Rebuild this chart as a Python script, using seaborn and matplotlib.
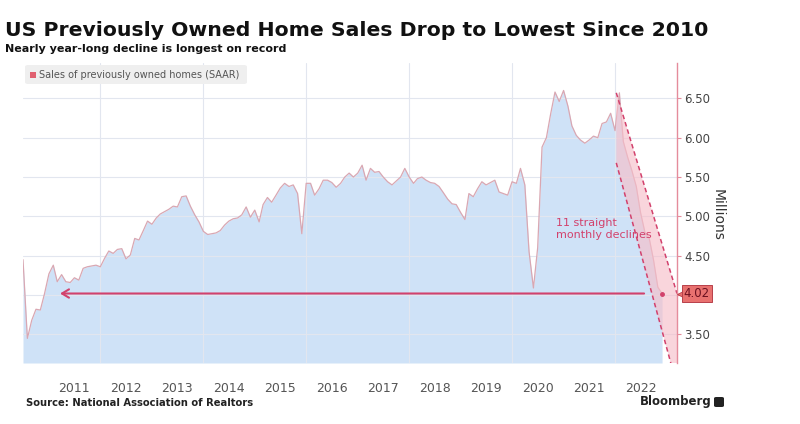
import pandas as pd
import matplotlib.pyplot as plt
import matplotlib.dates as mdates
from matplotlib.patches import Polygon, FancyBboxPatch
import seaborn as sns

# ----------------------------------------------------------
# Data (monthly, SAAR, millions)
# ----------------------------------------------------------

start_month = "2010-07-01"
sales = [
    4.45, 3.45, 3.68, 3.82, 3.81, 4.02, 4.27, 4.38, 4.17, 4.26,
    4.17, 4.16, 4.22, 4.19, 4.34, 4.36, 4.37, 4.38, 4.36, 4.47,
    4.56, 4.53, 4.58, 4.59, 4.46, 4.51, 4.72, 4.70, 4.82, 4.94,
    4.90, 4.98, 5.03, 5.06, 5.09, 5.13, 5.12, 5.25, 5.26, 5.13,
    5.02, 4.93, 4.81, 4.77, 4.78, 4.79, 4.82, 4.89, 4.94, 4.97,
    4.98, 5.02, 5.12, 4.99, 5.08, 4.93, 5.15, 5.24, 5.18, 5.27,
    5.36, 5.42, 5.38, 5.40, 5.29, 4.78, 5.42, 5.42, 5.27, 5.35,
    5.46, 5.46, 5.43, 5.37, 5.42, 5.50, 5.55, 5.50, 5.55, 5.65,
    5.46, 5.61, 5.56, 5.57, 5.50, 5.44, 5.40, 5.45, 5.50, 5.61,
    5.50, 5.42, 5.48, 5.50, 5.46, 5.43, 5.42, 5.38, 5.30, 5.22,
    5.16, 5.15, 5.05, 4.96, 5.29, 5.25, 5.35, 5.44, 5.40, 5.43,
    5.46, 5.31, 5.29, 5.27, 5.44, 5.42, 5.61, 5.40, 4.55, 4.09,
    4.60, 5.88, 6.00, 6.30, 6.58, 6.46, 6.60, 6.40, 6.15, 6.03,
    5.97, 5.93, 5.97, 6.02, 6.00, 6.18, 6.20, 6.31, 6.09, 6.57,
    5.95, 5.75, 5.58, 5.38, 5.05, 4.80, 4.72, 4.45, 4.10, 4.02,
]
last_value = 4.02

year_labels = ["2011", "2012", "2013", "2014", "2015", "2016",
               "2017", "2018", "2019", "2020", "2021", "2022"]
grid_years = ["2012", "2014", "2016", "2018", "2020", "2022"]
ytick_vals = [3.5, 4.0, 4.5, 5.0, 5.5, 6.0, 6.5]
ytick_labels = ["3.50", "", "4.50", "5.00", "5.50", "6.00", "6.50"]

df = pd.DataFrame({
    "date": pd.date_range(start_month, periods=len(sales), freq="MS"),
    "sales": sales,
})

# ----------------------------------------------------------
# Style
# ----------------------------------------------------------

sns.set_style("white")
plt.rcParams["font.family"] = ["DejaVu Sans"]

blue_fill = "#cfe2f7"
line_col = "#d9a7b2"
pink = "#e58c9c"
crimson = "#d2416c"
grid_col = "#e2e6ef"
tag_fill = "#e8716f"

fig = plt.figure(figsize=(8, 4.24), dpi=100)
ax = fig.add_axes([23 / 800, 61 / 424, 654 / 800, 300 / 424])

ymin, ymax = 3.137, 6.949
ax.set_ylim(ymin, ymax)
ax.set_xlim(pd.Timestamp("2010-07-01"), pd.Timestamp("2023-03-17"))

# area + line
ax.fill_between(df["date"], df["sales"], ymin, color=blue_fill, lw=0, zorder=1)

# gridlines drawn over the fill, like the original
for v in ytick_vals:
    ax.axhline(v, color=grid_col, lw=0.8, zorder=1.5)
for g in grid_years:
    ax.axvline(pd.Timestamp(g + "-01-01"), color=grid_col, lw=0.8, zorder=1.5)

sns.lineplot(data=df, x="date", y="sales", ax=ax, color=line_col, lw=0.9, zorder=2)

# pink band of the decline
band = [
    (mdates.date2num(pd.Timestamp("2022-01-10")), 6.57),
    (mdates.date2num(pd.Timestamp("2023-03-17")), 4.02),
    (mdates.date2num(pd.Timestamp("2023-03-17")), ymin),
    (mdates.date2num(pd.Timestamp("2023-02-01")), ymin),
    (mdates.date2num(pd.Timestamp("2022-01-10")), 5.68),
]
ax.add_patch(Polygon(band, closed=True, facecolor="#f6bfca", alpha=0.65,
                     edgecolor="none", zorder=3))
ax.plot([band[0][0], band[1][0]], [band[0][1], band[1][1]], color=crimson,
        lw=1.1, ls=(0, (3, 2)), zorder=4)
ax.plot([band[4][0], band[3][0]], [band[4][1], band[3][1]], color=crimson,
        lw=1.1, ls=(0, (3, 2)), zorder=4)

# last point
ax.plot(df["date"].iloc[-1], last_value, "o", color=crimson, ms=2.5, zorder=5)

# arrow back to 2010 level
ax.annotate("", xy=(pd.Timestamp("2011-03-01"), last_value),
            xytext=(pd.Timestamp("2022-08-15"), last_value),
            arrowprops=dict(arrowstyle="->,head_length=0.5,head_width=0.3",
                            color=crimson, lw=1.5), zorder=5)

ax.text(pd.Timestamp("2020-11-10"), 4.84, "11 straight\nmonthly declines",
        color=crimson, fontsize=8, linespacing=1.3, va="center", ha="left",
        zorder=6)

# axes
for s in ["top", "left", "bottom"]:
    ax.spines[s].set_visible(False)
ax.spines["right"].set_color(pink)
ax.spines["right"].set_linewidth(1.0)
ax.spines["right"].set_zorder(6)

ax.yaxis.tick_right()
ax.set_yticks(ytick_vals)
ax.set_yticklabels(ytick_labels)
ax.tick_params(axis="y", which="major", length=3, color=pink,
               labelsize=8.5, labelcolor="#444444", pad=2)

ax.set_xticks([pd.Timestamp(y + "-07-01") for y in year_labels])
ax.set_xticklabels(year_labels)
ax.tick_params(axis="x", which="both", length=0, labelsize=9,
               labelcolor="#555555", pad=14)

ax.grid(False)
ax.set_xlabel("")
ax.set_ylabel("")

# 4.02 tag: small box with a pointer at the axis
tag_y = (last_value - ymin) / (ymax - ymin)
ax.plot(1.0075, tag_y, marker="<", ms=7, color=tag_fill, mec="#b8404a", mew=0.6,
        transform=ax.transAxes, clip_on=False, zorder=7)
ax.text(1.0105, tag_y, "4.02", transform=ax.transAxes,
        fontsize=8.5, color="#6b1020", va="center", ha="left", zorder=8,
        bbox=dict(boxstyle="square,pad=0.15", fc=tag_fill, ec="#b8404a", lw=0.7))

# legend box
leg_box = FancyBboxPatch((25 / 800, 1 - 84 / 424), 222 / 800, 19 / 424,
                         boxstyle="round,pad=0,rounding_size=0.004",
                         transform=fig.transFigure, fc="#efefef", ec="none", zorder=10)
fig.patches.append(leg_box)
fig.patches.append(FancyBboxPatch((30 / 800, 1 - 78 / 424), 6 / 800, 6 / 424,
                                  boxstyle="square,pad=0", transform=fig.transFigure,
                                  fc="#e06070", ec="none", zorder=11))
fig.text(39 / 800, 1 - 75 / 424, "Sales of previously owned homes (SAAR)",
         fontsize=7, color="#555555", va="center", ha="left", zorder=12)

# titles and notes
fig.text(5 / 800, 1 - 30 / 424, "US Previously Owned Home Sales Drop to Lowest Since 2010",
         fontsize=14.7, fontweight="bold", color="#111111", va="center", ha="left")
fig.text(5 / 800, 1 - 49 / 424, "Nearly year-long decline is longest on record",
         fontsize=8, fontweight="bold", color="#111111", va="center", ha="left")
fig.text(718 / 800, 1 - 215 / 424, "Millions", rotation=-90, fontsize=10,
         color="#333333", va="center", ha="center")
fig.text(26 / 800, 1 - 403 / 424, "Source: National Association of Realtors",
         fontsize=7.2, fontweight="bold", color="#222222", va="center", ha="left")
fig.text(640 / 800, 1 - 402 / 424, "Bloomberg", fontsize=8.5, fontweight="bold",
         color="#222222", va="center", ha="left")
fig.patches.append(FancyBboxPatch((714 / 800, 1 - 407 / 424), 10 / 800, 10 / 424,
                                  boxstyle="round,pad=0,rounding_size=0.003",
                                  transform=fig.transFigure, fc="#222222", ec="none"))

fig.savefig("out.png", dpi=100)
